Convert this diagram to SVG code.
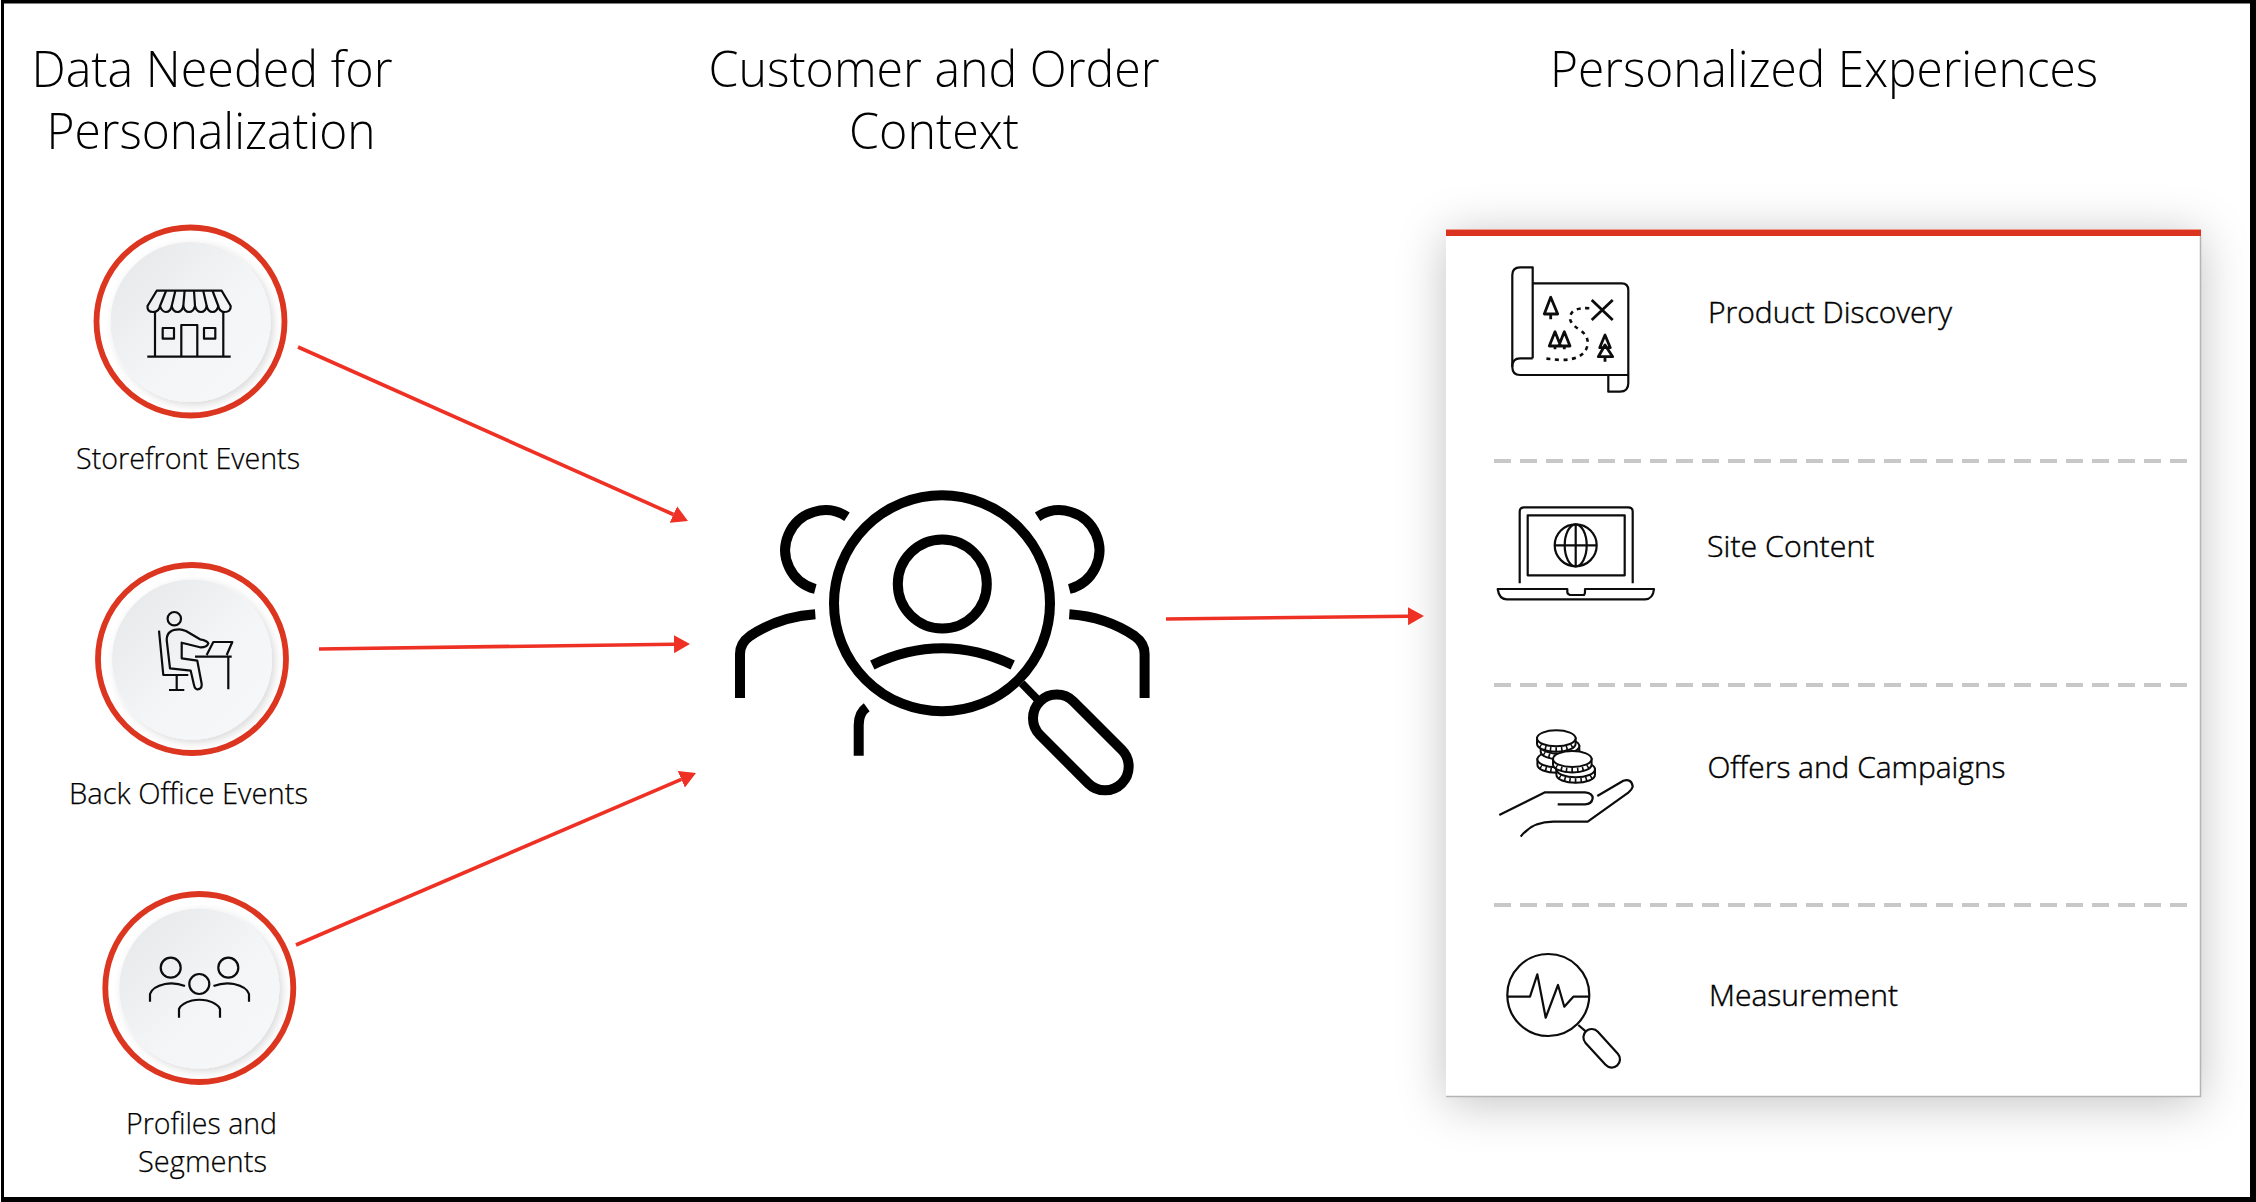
<svg xmlns="http://www.w3.org/2000/svg" xmlns:xlink="http://www.w3.org/1999/xlink" width="2256" height="1202" viewBox="0 0 2256 1202">
<style>
text{font-family:"Open Sans","Noto Sans","Liberation Sans",sans-serif;fill:#000}
.title{font-size:50px;font-weight:300}
.lab{font-size:30px;font-weight:300;stroke:#000;stroke-width:.25}
.item{font-size:30px;font-weight:300;stroke:#000;stroke-width:.45}
.ring{fill:#fff;stroke:#dc3520;stroke-width:5.8}
.disc{fill:url(#discGrad);filter:url(#discShadow)}
.ic{fill:none;stroke:#0c0c0c;stroke-width:2.2;stroke-linejoin:round}
.big{fill:none;stroke:#000;stroke-width:10}
.conn{fill:none;stroke:#ee3124;stroke-width:3.6;marker-end:url(#head)}
.dash{stroke:#c8c8c8;stroke-width:4;stroke-dasharray:17 9}
</style>
<defs>
<linearGradient id="discGrad" x1="0.1" y1="0.1" x2="0.85" y2="0.85"><stop offset="0" stop-color="#e8e9ea"/><stop offset="0.6" stop-color="#f4f5f7"/><stop offset="1" stop-color="#f6f7f9"/></linearGradient>
<filter id="discShadow" x="-20%" y="-20%" width="140%" height="140%"><feDropShadow dx="3" dy="3" stdDeviation="4" flood-color="#000" flood-opacity="0.15"/></filter>
<filter id="panelShadow" x="-15%" y="-15%" width="130%" height="130%"><feDropShadow dx="0" dy="6" stdDeviation="24" flood-color="#000" flood-opacity="0.24"/></filter>
<marker id="head" markerUnits="userSpaceOnUse" viewBox="0 0 16 18" refX="0" refY="9" markerWidth="16" markerHeight="18" orient="auto"><path d="M0 0L16 9L0 18Z" fill="#ee3124"/></marker>
<g id="coin">
<path d="M-19.3 0V5.5A19.3 8 0 0 0 19.3 5.5V0Z" fill="#fff" stroke="#0c0c0c" stroke-width="2"/>
<path d="M-16.5 7.5A19.3 8 0 0 0 16.5 7.5" fill="none" stroke="#0c0c0c" stroke-width="5" stroke-dasharray="1.6 3.8"/>
<ellipse rx="19.3" ry="8" fill="#fff" stroke="#0c0c0c" stroke-width="2"/>
</g>
</defs>
<rect width="2256" height="1202" fill="#fff"/>
<path fill="#000" fill-rule="evenodd" d="M1 0H2256V1202H1ZM4 3.5V1197H2250V3.5Z"/>

<g id="col-data">
<text class="title" x="31.5" y="87" textLength="361" lengthAdjust="spacingAndGlyphs">Data Needed for</text>
<text class="title" x="46.5" y="149" textLength="329" lengthAdjust="spacingAndGlyphs">Personalization</text>
</g>
<g id="col-context">
<text class="title" x="708.5" y="87" textLength="451" lengthAdjust="spacingAndGlyphs">Customer and Order</text>
<text class="title" x="849" y="149" textLength="170" lengthAdjust="spacingAndGlyphs">Context</text>
</g>
<g id="col-exp">
<text class="title" x="1550" y="87" textLength="548" lengthAdjust="spacingAndGlyphs">Personalized Experiences</text>
</g>

<g id="panel">
<rect x="1446" y="229" width="755" height="868" fill="#fff" filter="url(#panelShadow)"/>
<path d="M2200.5 236V1096.5H1446" fill="none" stroke="#b4b4b4" stroke-width="1.5"/>
<rect x="1446" y="229.5" width="755" height="6.5" fill="#dc3220"/>
<line class="dash" x1="1494" y1="461" x2="2190" y2="461"/>
<line class="dash" x1="1494" y1="685" x2="2190" y2="685"/>
<line class="dash" x1="1494" y1="905" x2="2190" y2="905"/>
</g>

<g id="connectors">
<path class="conn" d="M298 347L673.4 514.5"/>
<path class="conn" d="M319 649L674 644.2"/>
<path class="conn" d="M296 945L681.3 779.3"/>
<path class="conn" d="M1166 619L1408 616.2"/>
</g>

<g id="node-storefront">
<circle class="ring" cx="190.5" cy="321.5" r="94"/>
<circle class="disc" cx="190.5" cy="322" r="80"/>
<g class="ic">
<path d="M147.5 306Q147 312 153 312Q159 312 160 306Q162 312 166 312Q170.5 312 171.7 306Q173 312 177.5 312Q182 312 183.3 306Q184.5 312 189 312Q193.5 312 195 306Q196.5 312 201 312Q205.5 312 206.7 306Q208 312 212.5 312Q217 312 218.3 306Q219.5 312 224.5 312Q231 312 230.7 306L221.7 290.7H156.7Z"/>
<path d="M160 306L166 291M171.7 306L175.3 291M183.3 306L184.6 291M195 306L194 291M206.7 306L203.3 291M218.3 306L212.6 291"/>
<path d="M155 311V356.7M223.3 311V356.7M147.3 356.7H230.7M181.3 356.7V325H197.3V356.7"/>
<rect x="162.7" y="328" width="11.3" height="10.7"/>
<rect x="204" y="328" width="11.3" height="10.7"/>
</g>
<text class="lab" x="76" y="469" textLength="224" lengthAdjust="spacingAndGlyphs">Storefront Events</text>
</g>

<g id="node-backoffice">
<circle class="ring" cx="192" cy="659" r="94"/>
<circle class="disc" cx="192" cy="659.5" r="80"/>
<g class="ic">
<circle cx="174.3" cy="618.7" r="6.7"/>
<path d="M159 630.7L163.3 675H188.3M176.7 675V690M169 690H184.3"/>
<path d="M179.3 629.3Q166.7 629.3 166.7 640L170 668.3L190.7 670.7L194 685Q195 689.3 197.3 689.3Q202 689.5 201.7 684L197.3 660.7L181.7 658.3V642.7L200 647.3Q207 647.5 208.3 643.3Q207 640.5 200 639.3L186 631Q182 629.3 179.3 629.3Z"/>
<path d="M206.7 655L213.3 642H232.3L226.7 655M195 656.7H231.7M228.3 656.7V689.3"/>
</g>
<text class="lab" x="69" y="804" textLength="239" lengthAdjust="spacingAndGlyphs">Back Office Events</text>
</g>

<g id="node-profiles">
<circle class="ring" cx="199.3" cy="988" r="94"/>
<circle class="disc" cx="199.3" cy="988.5" r="80"/>
<g class="ic">
<circle cx="170.7" cy="967.7" r="10"/>
<circle cx="228.3" cy="967.7" r="10"/>
<circle cx="199.3" cy="984" r="10"/>
<path d="M150 1001.7V994Q152 987 165 984Q175 982 185 986"/>
<path d="M249 1001.7V994Q247 987 234 984Q224 982 213.5 986"/>
<path d="M179 1017.7V1009Q181 1003.5 192 1000.5Q199.3 999 207 1000.5Q218 1003.5 220 1009V1017.7"/>
</g>
<text class="lab" x="126" y="1134" textLength="151" lengthAdjust="spacingAndGlyphs">Profiles and</text>
<text class="lab" x="138" y="1172" textLength="129" lengthAdjust="spacingAndGlyphs">Segments</text>
</g>

<g id="node-customer">
<g class="big">
<circle cx="942" cy="603.3" r="108"/>
<circle cx="942.3" cy="584" r="44.5"/>
<path d="M872.3 665Q942 631.6 1012.7 665"/>
<path d="M847 516.7A40 40 0 1 0 815.3 589"/>
<path d="M1037.6 516.7A40 40 0 1 1 1069.3 589"/>
<path d="M815.3 614.3C790 616 768 624 750 636C743 641 740 646 740 654V698"/>
<path d="M1069.3 614.3C1094.6 616 1116.6 624 1134.6 636C1141.6 641 1144.6 646 1144.6 654V698"/>
<path d="M866.7 707.3Q858.7 713 858.7 725V755.7"/>
<path d="M1021.7 683.3L1038 700" stroke-width="8"/>
<rect x="-23.7" y="-23.7" width="115.7" height="47.4" rx="23.7" transform="translate(1056.7 718.3) rotate(45)"/>
</g>
</g>

<g id="item-discovery">
<g class="ic">
<path d="M1532.7 283.3H1621.7Q1628.3 283.3 1628.3 290V383.3Q1628.3 391.7 1620 391.7H1608.3V375"/>
<path d="M1532.7 358.3V267.3H1520Q1512.3 267.3 1512.3 275V366.7Q1512.3 375 1520 375H1628.3"/>
<path d="M1532.7 358.3H1520Q1512.3 358.3 1512.3 366.7"/>
<g stroke-width="2.8">
<path d="M1550.7 297.3L1544.3 314H1557.7ZM1550.7 314V319.3"/>
<path d="M1555 331.7L1549.3 346H1560.7ZM1564.3 331.7L1558.7 346H1570ZM1555 346V349.3M1564.3 346V349.3"/>
<path d="M1605 335L1599.7 347.7H1610.3ZM1605 345L1598.3 356.7H1612.7ZM1605 356.7V361.7"/>
<path d="M1591.7 300L1612.7 320M1612.7 300L1591.7 320"/>
</g>
<path d="M1589.3 308.3Q1572 307 1570 316.7Q1569 323 1580 330Q1590 337 1587 347Q1583 360 1560 360L1543.3 358.3" stroke-dasharray="4 4.5" stroke-width="2.6"/>
</g>
<text class="item" x="1708" y="322.5" textLength="244" lengthAdjust="spacingAndGlyphs">Product Discovery</text>
</g>

<g id="item-content">
<g class="ic">
<path d="M1519.7 583.3V511.7Q1519.7 507.3 1524 507.3H1628.3Q1632.7 507.3 1632.7 511.7V583.3"/>
<rect x="1527.7" y="515.3" width="97" height="60"/>
<circle cx="1575.7" cy="545.3" r="21"/>
<ellipse cx="1575.7" cy="545.3" rx="11" ry="21"/>
<path d="M1575.7 524.3V566.3M1554.7 545.3H1596.7"/>
<path d="M1497.7 589H1567.3V592Q1567.3 594 1570 595H1584Q1585 594 1585 592V589H1654Q1653 599.3 1645 599.3H1507Q1499 599.3 1497.7 589Z"/>
</g>
<text class="item" x="1707" y="556.5" textLength="167.5" lengthAdjust="spacingAndGlyphs">Site Content</text>
</g>

<g id="item-offers">
<use xlink:href="#coin" href="#coin" x="1556.7" y="759.3"/>
<use xlink:href="#coin" href="#coin" x="1560" y="746"/>
<use xlink:href="#coin" href="#coin" x="1556.3" y="738.3"/>
<use xlink:href="#coin" href="#coin" x="1575.7" y="769.3"/>
<use xlink:href="#coin" href="#coin" x="1572.3" y="759"/>
<g class="ic">
<path d="M1499.3 815L1545 792.3H1585Q1592.7 793 1592.7 798.3Q1591.7 804.3 1585 804.3H1557.7"/>
<path d="M1597.3 796L1623.3 780.7Q1631.7 778.3 1632.7 786.7Q1631.7 790 1628.3 792.7L1587.7 821.7H1553.3Q1531.7 821.7 1520.7 836.7"/>
</g>
<text class="item" x="1707.5" y="777.5" textLength="298" lengthAdjust="spacingAndGlyphs">Offers and Campaigns</text>
</g>

<g id="item-measurement">
<g class="ic">
<circle cx="1548.3" cy="995" r="41"/>
<path d="M1507.7 996.7H1530L1537.3 974.3L1545.7 1017.7L1558 985L1564.3 1006.7L1573.3 996.7H1589.3"/>
<path d="M1578.3 1025L1586 1031.7"/>
<rect x="-8.3" y="-8.3" width="46.3" height="16.6" rx="8.3" transform="translate(1591.7 1037.3) rotate(47.7)"/>
</g>
<text class="item" x="1709" y="1005.5" textLength="189" lengthAdjust="spacingAndGlyphs">Measurement</text>
</g>
</svg>
